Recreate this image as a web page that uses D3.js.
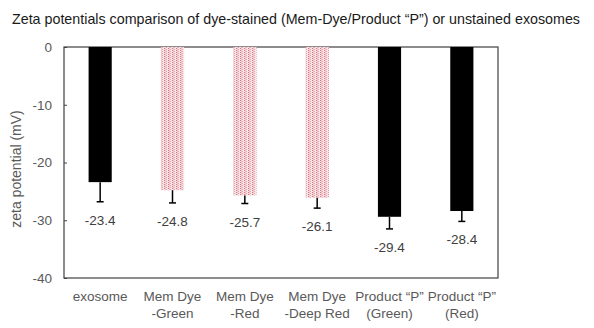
<!DOCTYPE html>
<html><head><meta charset="utf-8">
<script src="https://cdn.jsdelivr.net/npm/d3@7"></script>
<style>body{margin:0;background:#fff;}svg{display:block;}</style>
</head><body>
<svg id="c" width="594" height="328"></svg>
<script>
const categories = [["exosome"],["Mem Dye","-Green"],["Mem Dye","-Red"],["Mem Dye","-Deep Red"],["Product \u201CP\u201D","(Green)"],["Product \u201CP\u201D","(Red)"]];
const values = [-23.4,-24.8,-25.7,-26.1,-29.4,-28.4];
const errors = [3.4,2.2,1.4,1.8,2.1,1.8];
const styles = ["solid","hatch","hatch","hatch","solid","solid"];
const yTicks = [0,-10,-20,-30,-40];
const title = "Zeta potentials comparison of dye-stained (Mem-Dye/Product \u201CP\u201D) or unstained exosomes";

const FONT = "Liberation Sans, Arial, sans-serif";
const svg = d3.select("#c");
const m = {l:64,r:96,t:47,b:50};
const W = 594, H = 328;
const x = d3.scaleBand().domain(d3.range(categories.length)).range([m.l, W-m.r]).paddingInner(0.68).paddingOuter(0.34);
const y = d3.scaleLinear().domain([0,-40]).range([m.t, H-m.b]);
const fmt = v => v.toFixed(1);

const defs = svg.append("defs");
const pat = defs.append("pattern").attr("id","hatch").attr("patternUnits","userSpaceOnUse").attr("width",4).attr("height",2);
pat.append("rect").attr("width",4).attr("height",2).attr("fill","#f6e3e5");
pat.append("rect").attr("x",0).attr("width",1).attr("height",1).attr("fill","#d97480");
pat.append("rect").attr("x",2).attr("y",1).attr("width",1).attr("height",1).attr("fill","#e6a5ad");
pat.append("rect").attr("x",1).attr("y",0).attr("width",1).attr("height",2).attr("fill","#efc6cb");

svg.append("text").attr("x",12).attr("y",24).attr("font-family",FONT)
  .attr("font-size",14.5).attr("fill","#1a1a1a").attr("textLength",568).attr("lengthAdjust","spacingAndGlyphs").text(title);

// frame
svg.append("rect").attr("x",m.l).attr("y",m.t).attr("width",W-m.r-m.l).attr("height",H-m.b-m.t)
  .attr("fill","none").attr("stroke","#404040").attr("stroke-width",1.2);

// y axis
const ya = svg.append("g").attr("transform",`translate(${m.l},0)`)
  .call(d3.axisRight(y).tickValues(yTicks).tickSize(3).tickFormat(d => String(d)));
ya.select(".domain").remove();
ya.selectAll("line").attr("stroke","#404040");
ya.selectAll("text").attr("x",-12).attr("text-anchor","end").attr("font-family",FONT)
  .attr("font-size",13.5).attr("fill","#595959");

svg.append("text").attr("transform",`translate(21,169) rotate(-90)`).attr("text-anchor","middle")
  .attr("font-family",FONT).attr("font-size",14).attr("fill","#595959").text("zeta potential (mV)");

// bars
const g = svg.append("g");
values.forEach((v,i)=>{
  const cx = x(i)+x.bandwidth()/2;
  g.append("rect").attr("x",x(i)).attr("y",y(0)).attr("width",x.bandwidth()).attr("height",y(v)-y(0))
    .attr("fill", styles[i]==="hatch" ? "url(#hatch)" : "#000");
  g.append("line").attr("x1",cx).attr("x2",cx).attr("y1",y(v)).attr("y2",y(v-errors[i])).attr("stroke","#000").attr("stroke-width",1.5);
  g.append("line").attr("x1",cx-3.5).attr("x2",cx+3.5).attr("y1",y(v-errors[i])).attr("y2",y(v-errors[i])).attr("stroke","#000").attr("stroke-width",1.5);
  g.append("text").attr("x",cx).attr("y",y(v-errors[i])+23).attr("text-anchor","middle")
    .attr("font-family",FONT).attr("font-size",13.5).attr("fill","#404040").text(fmt(v));
});

// x labels
const xa = svg.append("g");
categories.forEach((c,i)=>{
  const t = xa.append("text").attr("x",x(i)+x.bandwidth()/2).attr("y",H-m.b+23).attr("text-anchor","middle")
    .attr("font-family",FONT).attr("font-size",13.5).attr("fill","#595959");
  c.forEach((line,j)=>t.append("tspan").attr("x",x(i)+x.bandwidth()/2).attr("dy",j?16.5:0).text(line));
});
</script>
</body></html>
